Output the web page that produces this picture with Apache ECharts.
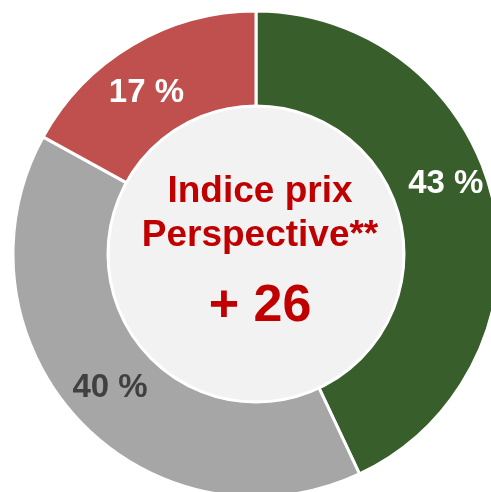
<!DOCTYPE html>
<html lang="fr">
<head>
    <meta charset="UTF-8">
    <title>Indice prix Perspective</title>
    <script src="https://cdn.jsdelivr.net/npm/echarts@6/dist/echarts.min.js"></script>
    <style type="text/css">
        body{
            margin: 0px;
            padding: 0px;
            background: #ffffff;
        }
        #chart{
            width: 491px;
            height: 492px;
        }
    </style>
</head>
<body>
<div id="chart"></div>
<script type="text/javascript">
    // parts du donut (%), dans l'ordre horaire depuis midi
    var categories = ['Vert', 'Gris', 'Rouge'];
    var values = [43, 40, 17];
    var sliceColors = ['#385e2b', '#a6a6a6', '#c0504d'];
    var labelColors = ['#ffffff', '#404040', '#ffffff'];
    var labelOffsets = [[-3, -27], [-2, -1], [-9, 9]];
    // texte du centre
    var centerLines = ['Indice prix', 'Perspective**'];
    var centerValue = '+ 26';

    var cx = 256, cy = 254;

    var pieData = [];
    for (var i = 0; i < values.length; i++) {
        pieData.push({
            name: categories[i],
            value: values[i],
            itemStyle: {color: sliceColors[i]},
            label: {color: labelColors[i], offset: labelOffsets[i]}
        });
    }

    var myChart = echarts.init(document.getElementById('chart'));
    myChart.setOption({
        animation: false,
        series: [
            {
                type: 'pie',
                center: [cx, cy],
                radius: [146, 243],
                startAngle: 90,
                clockwise: true,
                silent: true,
                itemStyle: {borderColor: '#ffffff', borderWidth: 3},
                label: {
                    show: true,
                    position: 'inside',
                    formatter: function (p) { return p.value + ' %'; },
                    fontFamily: 'Liberation Sans',
                    fontWeight: 'bold',
                    fontSize: 33
                },
                labelLine: {show: false},
                data: pieData
            },
            {
                type: 'pie',
                center: [cx, cy],
                radius: [0, 148],
                silent: true,
                label: {show: false},
                labelLine: {show: false},
                itemStyle: {color: '#f2f2f2', borderColor: '#ffffff', borderWidth: 3},
                data: [{name: 'centre', value: 1}]
            }
        ],
        graphic: [
            {
                type: 'text', z: 10,
                style: {
                    text: centerLines[0], x: 260, y: 192,
                    align: 'center', verticalAlign: 'middle',
                    fill: '#c00000', font: 'bold 37px "Liberation Sans"'
                }
            },
            {
                type: 'text', z: 10,
                style: {
                    text: centerLines[1], x: 260, y: 236,
                    align: 'center', verticalAlign: 'middle',
                    fill: '#c00000', font: 'bold 37px "Liberation Sans"'
                }
            },
            {
                type: 'text', z: 10,
                style: {
                    text: centerValue, x: 260, y: 307,
                    align: 'center', verticalAlign: 'middle',
                    fill: '#c00000', font: 'bold 52px "Liberation Sans"'
                }
            }
        ]
    });
</script>
</body>
</html>
